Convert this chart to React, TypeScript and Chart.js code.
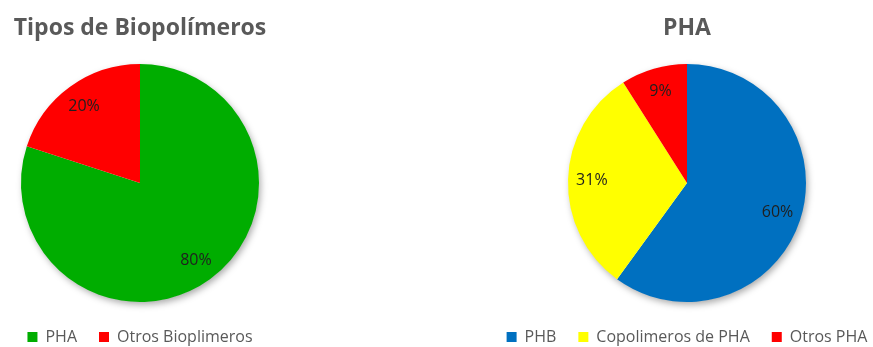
import React, { useEffect, useRef } from "react";
import { Chart, registerables } from "chart.js";

Chart.register(...registerables);

const leftTitle = "Tipos de Biopolímeros";
const leftLabels = ["PHA", "Otros Bioplimeros"];
const leftValues = [80, 20];
const leftColors = ["#00AD00", "#FF0000"];

const rightTitle = "PHA";
const rightLabels = ["PHB", "Copolimeros de PHA", "Otros PHA"];
const rightValues = [60, 31, 9];
const rightColors = ["#0070C0", "#FFFF00", "#FF0000"];

const FONT = "'Open Sans', 'DejaVu Sans', sans-serif";

const shadowPlugin = {
  id: "pieShadow",
  beforeDatasetsDraw(chart: any) {
    const meta = chart.getDatasetMeta(0);
    const arc = meta.data[0];
    if (!arc) return;
    const { x, y, outerRadius } = arc as any;
    const ctx = chart.ctx;
    ctx.save();
    ctx.shadowColor = "rgba(0,0,0,0.35)";
    ctx.shadowBlur = 7;
    ctx.shadowOffsetX = 2;
    ctx.shadowOffsetY = 3;
    ctx.beginPath();
    ctx.arc(x, y, outerRadius - 0.5, 0, Math.PI * 2);
    ctx.fillStyle = "#ffffff";
    ctx.fill();
    ctx.restore();
  },
};

const labelPlugin = {
  id: "pieLabels",
  afterDatasetsDraw(chart: any) {
    const meta = chart.getDatasetMeta(0);
    const values = chart.data.datasets[0].data as number[];
    const ctx = chart.ctx;
    ctx.save();
    ctx.font = `16px ${FONT}`;
    ctx.fillStyle = "#1f1f1f";
    ctx.textAlign = "center";
    ctx.textBaseline = "middle";
    meta.data.forEach((arc: any, i: number) => {
      const mid = (arc.startAngle + arc.endAngle) / 2;
      const r = arc.outerRadius * 0.8;
      ctx.fillText(`${values[i]}%`, arc.x + Math.cos(mid) * r, arc.y + Math.sin(mid) * r);
    });
    ctx.restore();
  },
};

function PieChart(props: {
  title: string;
  labels: string[];
  values: number[];
  colors: string[];
  left: number;
}) {
  const ref = useRef<HTMLCanvasElement | null>(null);
  useEffect(() => {
    if (!ref.current) return;
    const chart = new Chart(ref.current, {
      type: "pie",
      data: {
        labels: props.labels,
        datasets: [
          {
            data: props.values,
            backgroundColor: props.colors,
            borderWidth: 0,
            radius: 119,
          } as any,
        ],
      },
      options: {
        animation: false,
        responsive: false,
        devicePixelRatio: 1,
        events: [],
        layout: { padding: 0 },
        plugins: {
          title: {
            display: true,
            text: props.title,
            color: "#595959",
            font: { family: FONT, size: 23, weight: "bold" },
            padding: { top: 14.2, bottom: 17.2 },
          },
          legend: {
            display: true,
            position: "bottom",
            labels: {
              color: "#595959",
              font: { family: FONT, size: 16 },
              boxWidth: 10,
              boxHeight: 10,
              padding: 22,
            },
          },
          tooltip: { enabled: false },
        },
      },
      plugins: [shadowPlugin, labelPlugin],
    });
    return () => chart.destroy();
  }, []);
  return (
    <canvas
      ref={ref}
      width={440}
      height={355}
      style={{ position: "absolute", left: props.left, top: 0, width: 440, height: 355 }}
    />
  );
}

export default function App() {
  return (
    <div
      style={{
        position: "absolute",
        left: 0,
        top: 0,
        width: 873,
        height: 347,
        overflow: "hidden",
        background: "#ffffff",
      }}
    >
      <PieChart title={leftTitle} labels={leftLabels} values={leftValues} colors={leftColors} left={-80} />
      <PieChart title={rightTitle} labels={rightLabels} values={rightValues} colors={rightColors} left={467} />
    </div>
  );
}
